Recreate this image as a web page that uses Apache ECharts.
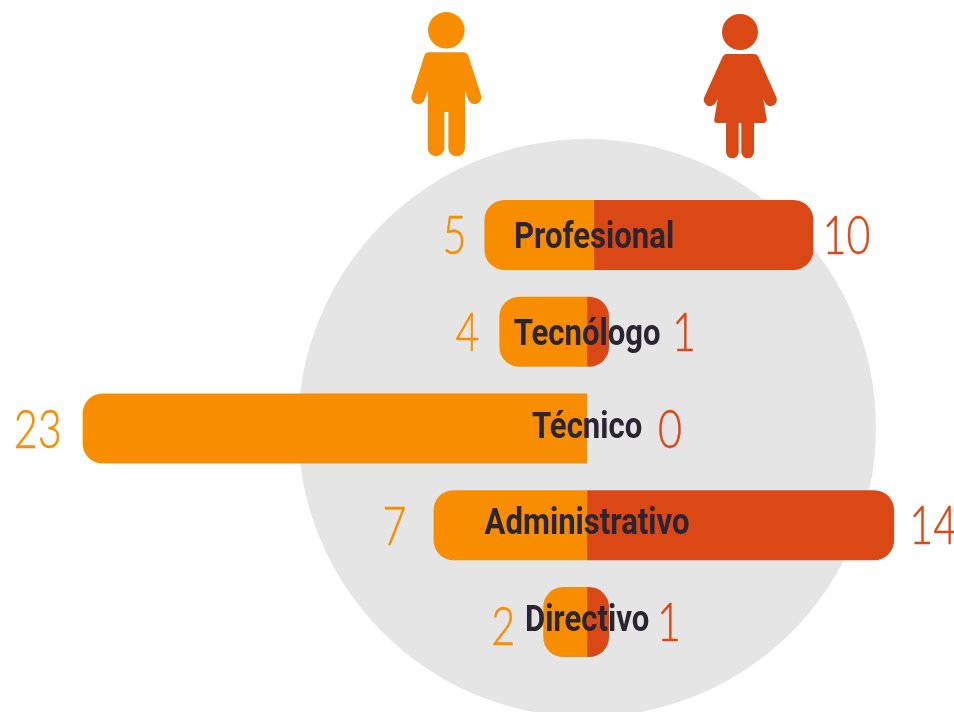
<!DOCTYPE html>
<html>
<head>
<meta charset="utf-8">
<style>
  html, body { margin: 0; padding: 0; background: #fff; }
  #chart { width: 954px; height: 712px; }
</style>
<script src="https://cdn.jsdelivr.net/npm/echarts@6/dist/echarts.min.js"></script>
</head>
<body>
<div id="chart"></div>
<script>
const categories = ['Profesional', 'Tecnólogo', 'Técnico', 'Administrativo', 'Directivo']
const menValues = [5, 4, 23, 7, 2]
const womenValues = [10, 1, 0, 14, 1]

const ORANGE = '#f98d00'
const RED = '#da4815'
const INK = '#2a2530'

// hand placed text in the original, nudges in px per row
const rowShift = [7, 0, 0, 0, 0]
const menLabelGap = [30, 32, 45, 39, 40]
const womenLabelGap = [33, 75, 83, 39, 60]
const nameNudgeY = [4, 4, 0, -1, 0]
const menNudgeY = [2, 2, 2, 3, 6]
const womenNudgeY = [2, 2, 2, 2, 2]

const chart = echarts.init(document.getElementById('chart'), null, { renderer: 'canvas' })

const manPath = 'M429 52.3L463 52.3Q467 52.3 468.4 56L480.6 94A6.3 6.3 0 0 1 468.6 100.5L465 90.7L465 148A8.35 8.35 0 0 1 448.3 148L448.3 112L444.3 112L444.3 148A8.3 8.3 0 0 1 427.7 148L427.7 90.7L424.3 100.5A6.3 6.3 0 0 1 412.2 94L424.2 56Q425.5 52.3 429 52.3Z'
const womanPath = 'M727 54L754 54Q757 54 758.5 57L776 96.5A6.2 6.2 0 0 1 765 103L763.3 99L766.7 119Q767 123 763 123L754 123L754 152A6.35 6.35 0 0 1 741.3 152L741.3 123L738.7 123L738.7 152A6.35 6.35 0 0 1 726 152L726 123L717 123Q713.6 123 714.3 119L717.7 99L715.5 103A6.2 6.2 0 0 1 704.6 96.5L722.5 57Q724 54 727 54Z'
echarts.graphic.registerShape('manBody', echarts.graphic.extendPath(manPath, {}))
echarts.graphic.registerShape('womanBody', echarts.graphic.extendPath(womanPath, {}))

const barHeight = 70
const radius = 20

const renderSide = (values, color, sign, gaps, nudges) => (params, api) => {
  const i = params.dataIndex
  const value = values[i]
  const zero = api.coord([0, i])
  const end = api.coord([sign * value, i])
  const shift = rowShift[i]
  const x0 = zero[0] + shift
  const x1 = end[0] + shift
  const children = []
  if (value > 0) {
    children.push({
      type: 'rect',
      shape: {
        x: Math.min(x0, x1),
        y: zero[1] - barHeight / 2,
        width: Math.abs(x1 - x0),
        height: barHeight,
        r: sign < 0 ? [radius, 0, 0, radius] : [0, radius, radius, 0]
      },
      style: { fill: color }
    })
  }
  children.push({
    type: 'text',
    z2: 5,
    x: x1 + sign * gaps[i],
    y: zero[1] + nudges[i],
    scaleX: 0.78,
    style: {
      text: String(value),
      align: 'center',
      verticalAlign: 'middle',
      font: '300 53px "Lato", "Noto Sans", sans-serif',
      fill: color,
      stroke: color,
      lineWidth: 0.5
    }
  })
  return { type: 'group', children }
}

chart.setOption({
  animation: false,
  graphic: [
    {
      type: 'circle',
      z: -1,
      shape: { cx: 587, cy: 428, r: 289 },
      style: { fill: '#e5e5e5' }
    },
    { type: 'circle', shape: { cx: 446.3, cy: 30.3, r: 18.3 }, style: { fill: ORANGE } },
    { type: 'manBody', style: { fill: ORANGE } },
    { type: 'circle', shape: { cx: 740, cy: 32, r: 18 }, style: { fill: RED } },
    { type: 'womanBody', style: { fill: RED } }
  ],
  grid: { left: 0, right: 0, top: 186.6, bottom: 41.6 },
  xAxis: { type: 'value', min: -26.77, max: 16.73, show: false },
  yAxis: { type: 'category', data: categories, inverse: true, show: false },
  series: [
    {
      name: 'Hombres',
      type: 'custom',
      data: menValues.map((v, i) => [-v, i]),
      encode: { x: 0, y: 1 },
      z: 2,
      renderItem: renderSide(menValues, ORANGE, -1, menLabelGap, menNudgeY)
    },
    {
      name: 'Mujeres',
      type: 'custom',
      data: womenValues.map((v, i) => [v, i]),
      encode: { x: 0, y: 1 },
      z: 3,
      renderItem: renderSide(womenValues, RED, 1, womenLabelGap, womenNudgeY)
    },
    {
      name: 'Cargo',
      type: 'custom',
      data: categories.map((c, i) => [0, i]),
      encode: { x: 0, y: 1 },
      z: 4,
      renderItem: (params, api) => {
        const i = params.dataIndex
        const p = api.coord([0, i])
        return {
          type: 'text',
          x: p[0] + rowShift[i],
          y: p[1] + nameNudgeY[i],
          scaleX: 0.84,
          style: {
            text: categories[i],
            align: 'center',
            verticalAlign: 'middle',
            font: '700 37px "Roboto", sans-serif',
            fill: INK
          }
        }
      }
    }
  ]
})
</script>
</body>
</html>
